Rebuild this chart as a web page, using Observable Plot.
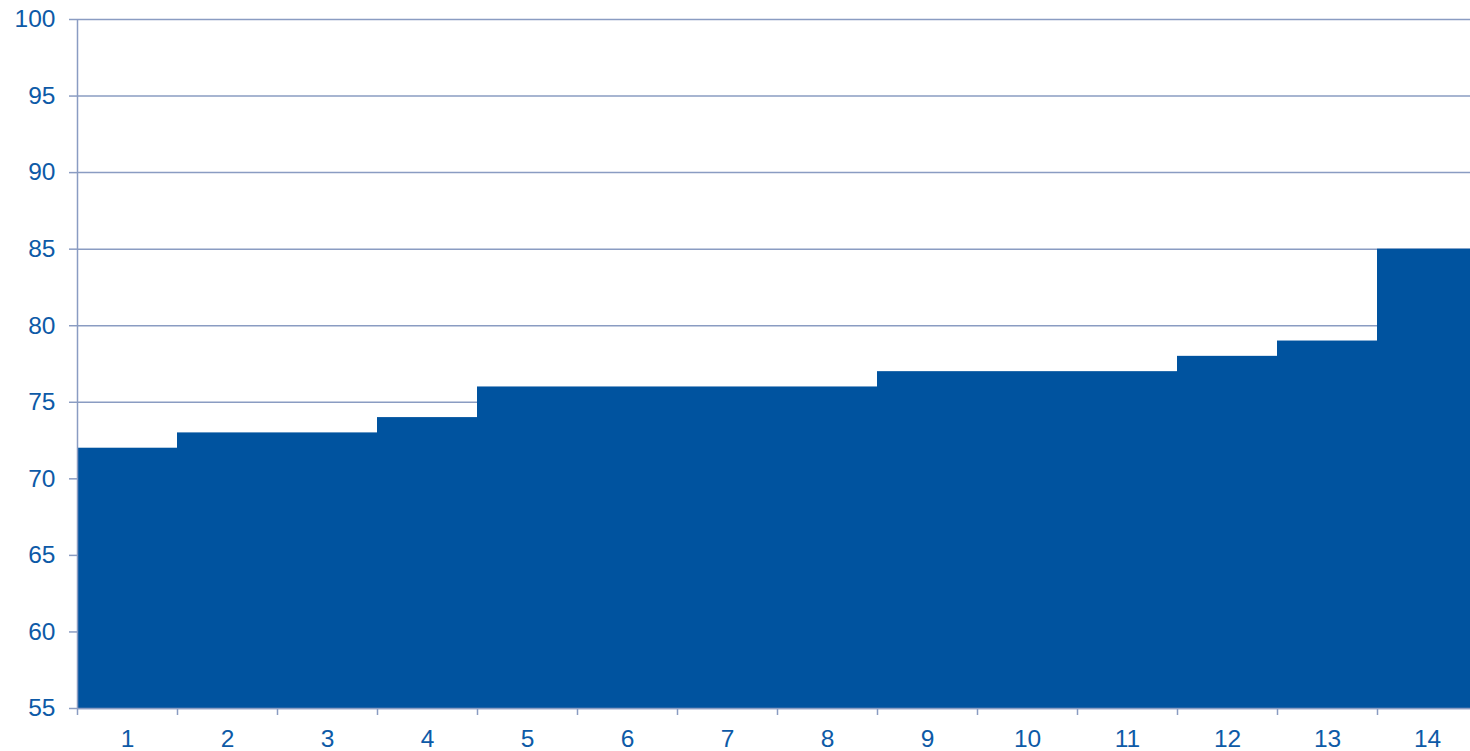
<!DOCTYPE html>
<html>
<head>
<meta charset="utf-8">
<script src="https://cdn.jsdelivr.net/npm/d3@7"></script>
<script src="https://cdn.jsdelivr.net/npm/@observablehq/plot@0.6"></script>
<style>
  html, body { margin: 0; padding: 0; background: #fff; overflow: hidden; }
  #chart svg { max-width: none !important; display: block; }
</style>
</head>
<body>
<div id="chart"></div>
<script>
const categories = [1, 2, 3, 4, 5, 6, 7, 8, 9, 10, 11, 12, 13, 14];
const values = [72, 73, 73, 74, 76, 76, 76, 76, 77, 77, 77, 78, 79, 85];
const yTicks = [55, 60, 65, 70, 75, 80, 85, 90, 95, 100];

const data = categories.map((c, i) => ({ cat: c, value: values[i] }));
const boundaries = categories.map(c => c - 0.5);

const axisColor = "#8a9cc2";
const textColor = "#0d5aa7";
const barColor = "#00539f";

const chart = Plot.plot({
  width: 1477,
  height: 751,
  marginTop: 19,
  marginBottom: 43,
  marginLeft: 77,
  marginRight: 0,
  style: { fontFamily: "'Liberation Sans', Arial, sans-serif", fontSize: "24px", color: textColor, background: "#fff" },
  x: { domain: [0.5, 14.5], axis: null },
  y: { domain: [55, 100], axis: null },
  marks: [
    Plot.ruleY(yTicks, { stroke: axisColor, strokeWidth: 1.5 }),
    Plot.rectY(data, { x1: d => d.cat - 0.5, x2: d => d.cat + 0.5, y1: 55, y2: "value", fill: barColor, inset: 0 }),
    Plot.ruleX([0.5], { stroke: axisColor, strokeWidth: 1.5 }),
    Plot.ruleY([55], { stroke: axisColor, strokeWidth: 1.5 }),
    Plot.axisY({ ticks: yTicks, tickSize: 8, tickPadding: 14, stroke: axisColor, strokeWidth: 1.5, fill: textColor, fontSize: 24.5, label: null }),
    Plot.axisX({ ticks: boundaries, tickSize: 7, tickFormat: () => "", stroke: axisColor, strokeWidth: 1.5, label: null }),
    Plot.axisX({ ticks: categories, tickSize: 0, tickPadding: 21, tickFormat: d => String(d), fill: textColor, fontSize: 24.5, label: null })
  ]
});
document.getElementById("chart").appendChild(chart);
</script>
</body>
</html>
